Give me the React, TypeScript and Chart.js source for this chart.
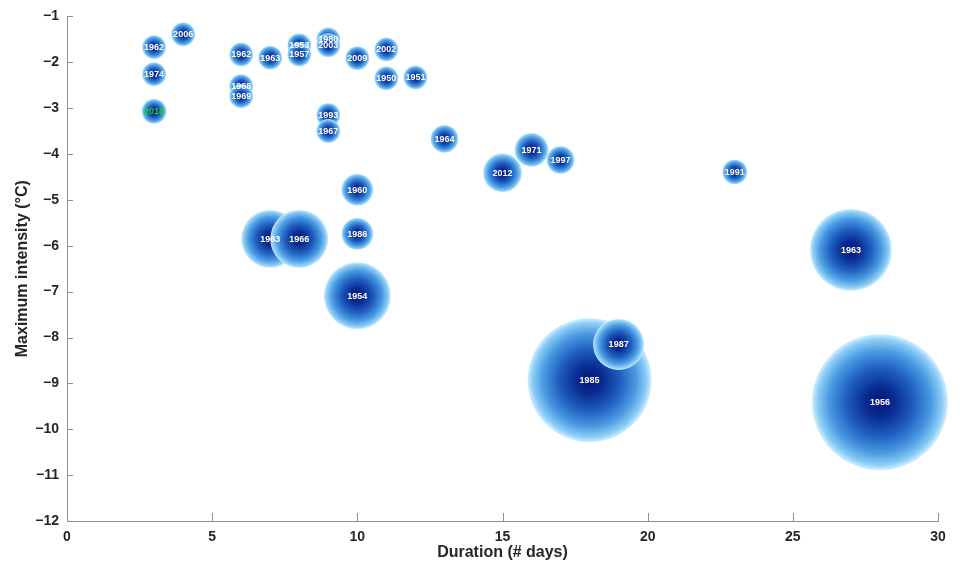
import { useEffect, useRef } from 'react';
import { Chart, registerables } from 'chart.js';

Chart.register(...registerables);

// Cold-spell events: duration (days), peak intensity (°C) and event magnitude (bubble radius)
const years = [
  '1962', '2006', '1974', '2018', '1962', '1963', '1953', '1957', '1980', '2003',
  '2009', '2002', '1950', '1951', '1968', '1969', '1993', '1967', '1964', '2012',
  '1971', '1997', '1991', '1960', '1986', '1963', '1966', '1954', '1985', '1987',
  '1963', '1956',
];
const duration = [
  3, 4, 3, 3, 6, 7, 8, 8, 9, 9,
  10, 11, 11, 12, 6, 6, 9, 9, 13, 15,
  16, 17, 23, 10, 10, 7, 8, 10, 18, 19,
  27, 28,
];
const intensity = [
  -1.67, -1.39, -2.26, -3.07, -1.83, -1.9, -1.63, -1.83, -1.5, -1.63,
  -1.91, -1.72, -2.35, -2.33, -2.52, -2.74, -3.15, -3.5, -3.67, -4.41,
  -3.91, -4.13, -4.39, -4.78, -5.74, -5.85, -5.85, -7.09, -8.93, -8.15,
  -6.09, -9.41,
];
const magnitude = [
  12, 12, 12, 12.5, 12, 12, 12, 12, 12, 12,
  12, 12, 12, 12, 12, 12, 12, 12, 14, 19.5,
  17, 14, 12.5, 16, 16, 29, 29, 33.5, 62, 25.5,
  41, 68,
];
const highlightYear = '2018';

const xMin = 0;
const xMax = 30;
const xStep = 5;
const yMin = -12;
const yMax = -1;
const yStep = 1;

const textColor = '#262626';
const axisColor = '#8f8f8f';
const fontFamily = '"Liberation Sans", Arial, Helvetica, sans-serif';

// Radial shading: dark navy core fading to pale sky-blue rim
function bubbleFill(ctx: any) {
  const chart = ctx.chart;
  const xs = chart.scales?.x;
  const ys = chart.scales?.y;
  if (ctx.type !== 'data' || !xs || !ys) return '#1f5cbd';
  const raw = ctx.raw;
  const cx = xs.getPixelForValue(raw.x);
  const cy = ys.getPixelForValue(raw.y);
  const r = Math.max(1, raw.r);
  if (!Number.isFinite(cx) || !Number.isFinite(cy)) return '#1f5cbd';
  const g = chart.ctx.createRadialGradient(cx, cy, 0, cx, cy, r);
  g.addColorStop(0, '#04157a');
  g.addColorStop(0.22, '#0a2b90');
  g.addColorStop(0.5, '#1f5fc0');
  g.addColorStop(0.75, '#4a9ae2');
  g.addColorStop(0.92, '#8ccdf6');
  g.addColorStop(1, 'rgba(205,238,255,0.95)');
  return g;
}

// Year label in the centre of each bubble
const yearLabels = {
  id: 'yearLabels',
  afterDatasetsDraw(chart: any) {
    const meta = chart.getDatasetMeta(0);
    const c = chart.ctx;
    c.save();
    c.font = `bold 9px ${fontFamily}`;
    c.textAlign = 'center';
    c.textBaseline = 'middle';
    meta.data.forEach((el: any, i: number) => {
      c.fillStyle = years[i] === highlightYear ? '#1fd41f' : '#ffffff';
      c.fillText(years[i], el.x, el.y + 0.5);
    });
    c.restore();
  },
};

// Tick marks pointing into the plot area
const innerTicks = {
  id: 'innerTicks',
  afterDraw(chart: any) {
    const { x, y } = chart.scales;
    const area = chart.chartArea;
    const c = chart.ctx;
    c.save();
    c.strokeStyle = axisColor;
    c.lineWidth = 1;
    x.ticks.forEach((t: any) => {
      const px = Math.round(x.getPixelForValue(t.value)) + 0.5;
      c.beginPath();
      c.moveTo(px, area.bottom);
      c.lineTo(px, area.bottom - 8);
      c.stroke();
    });
    y.ticks.forEach((t: any) => {
      const py = Math.round(y.getPixelForValue(t.value)) + 0.5;
      c.beginPath();
      c.moveTo(area.left, py);
      c.lineTo(area.left + 6, py);
      c.stroke();
    });
    c.restore();
  },
};

export default function App() {
  const canvasRef = useRef<HTMLCanvasElement | null>(null);

  useEffect(() => {
    const canvas = canvasRef.current;
    if (!canvas) return;
    const points = duration.map((d, i) => ({ x: d, y: intensity[i], r: magnitude[i] }));

    const chart = new Chart(canvas, {
      type: 'bubble',
      data: {
        datasets: [
          {
            data: points,
            backgroundColor: bubbleFill,
            borderWidth: 0,
            hoverRadius: 0,
            hoverBorderWidth: 0,
            clip: false,
          } as any,
        ],
      },
      options: {
        responsive: false,
        animation: false,
        events: [],
        layout: { autoPadding: false, padding: { top: 15, right: 22, left: 0, bottom: 0 } },
        plugins: {
          legend: { display: false },
          tooltip: { enabled: false },
        },
        scales: {
          x: {
            type: 'linear',
            min: xMin,
            max: xMax,
            ticks: {
              stepSize: xStep,
              color: textColor,
              font: { family: fontFamily, size: 14, weight: 'bold' },
              padding: 8,
            },
            grid: { drawOnChartArea: false, drawTicks: false },
            border: { color: axisColor, width: 1 },
            title: {
              display: true,
              text: 'Duration (# days)',
              color: textColor,
              font: { family: fontFamily, size: 16, weight: 'bold' },
              padding: { top: 0, bottom: 10 },
            },
            afterFit: (s: any) => {
              s.height = 51;
            },
          },
          y: {
            type: 'linear',
            min: yMin,
            max: yMax,
            ticks: {
              stepSize: yStep,
              color: textColor,
              font: { family: fontFamily, size: 14, weight: 'bold' },
              padding: 8,
              callback: (v: any) => String(v).replace('-', '\u2212'),
            },
            grid: { drawOnChartArea: false, drawTicks: false },
            border: { color: axisColor, width: 1 },
            title: {
              display: true,
              text: 'Maximum intensity (°C)',
              color: textColor,
              font: { family: fontFamily, size: 16, weight: 'bold' },
              padding: { top: 13, bottom: 0 },
            },
            afterFit: (s: any) => {
              s.width = 67;
            },
          },
        },
      },
      plugins: [yearLabels, innerTicks],
    });

    return () => chart.destroy();
  }, []);

  return (
    <div style={{ position: 'fixed', left: 0, top: 0, width: 960, height: 572, background: '#ffffff' }}>
      <canvas ref={canvasRef} width={960} height={572} style={{ display: 'block' }} />
    </div>
  );
}
